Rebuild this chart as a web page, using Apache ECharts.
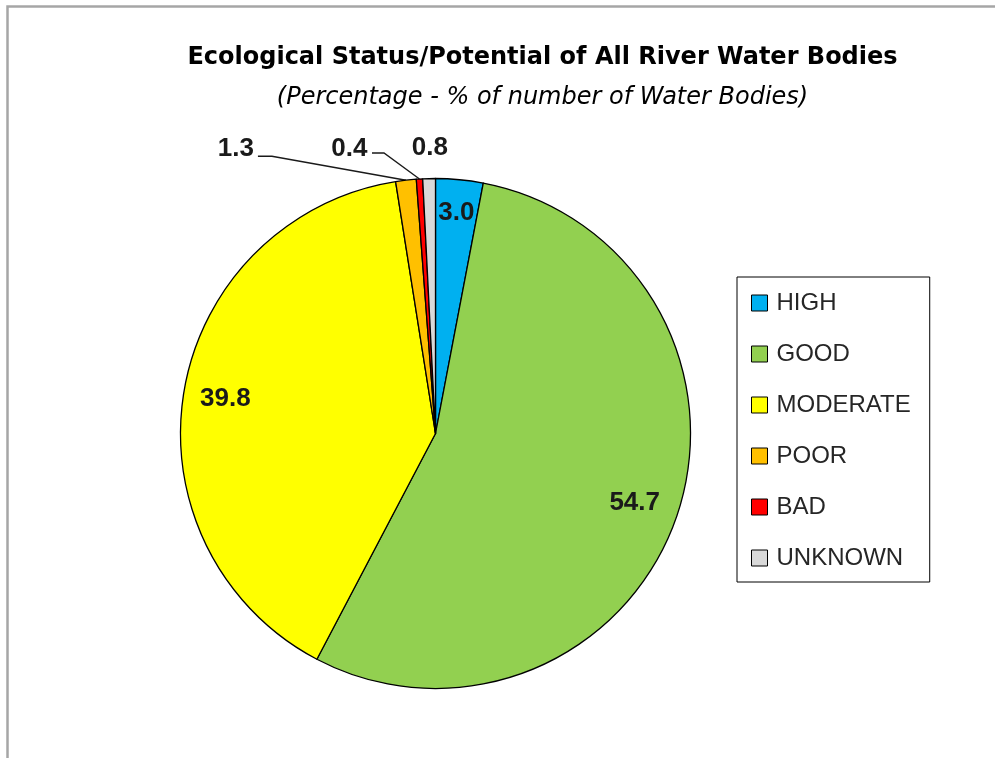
<!DOCTYPE html>
<html>
<head>
<meta charset="utf-8">
<script src="https://cdn.jsdelivr.net/npm/echarts@6/dist/echarts.min.js"></script>
<style>
  html, body { margin: 0; padding: 0; background: #fff; }
  #chart { width: 995px; height: 758px; }
</style>
</head>
<body>
<div id="chart"></div>
<script>
// ---- Data ----
const categories = ['HIGH', 'GOOD', 'MODERATE', 'POOR', 'BAD', 'UNKNOWN'];
const values = [3.0, 54.7, 39.8, 1.3, 0.4, 0.8];
const colors = ['#00B0F0', '#92D050', '#FFFF00', '#FFC000', '#FF0000', '#D9D9D9'];
const titleText = 'Ecological Status/Potential of All River Water Bodies';
const subtitleText = '(Percentage - % of number of Water Bodies)';

// ---- Layout / style settings ----
const PIE_CENTER = [435.5, 433.5];
const PIE_R = 255;
const insideLabelRadius = { 0: 222, 1: 211, 2: 213 };
const outsideLabel = {
  3: { label: [-152, -31], align: 'right', line: [[-134, -24], [-148, -24]] },
  4: { label: [-52, -30], align: 'right', line: [[-35.5, -26], [-47.5, -26]] },
  5: { label: [0.7, -30.6], align: 'center', line: null }
};

const chart = echarts.init(document.getElementById('chart'), null, { renderer: 'canvas' });

const pieData = categories.map((name, i) => ({
  name: name,
  value: values[i],
  itemStyle: { color: colors[i] },
  label: { position: insideLabelRadius[i] != null ? 'inside' : 'outside' }
}));

const option = {
  animation: false,
  backgroundColor: '#ffffff',
  graphic: [{
    type: 'rect',
    silent: true,
    z: -10,
    shape: { x: 7.5, y: 6.5, width: 1200, height: 1000 },
    style: { fill: 'none', stroke: '#A6A6A6', lineWidth: 2.5 }
  }],
  title: [{
    text: titleText,
    left: 542.5,
    top: 46,
    textAlign: 'center',
    padding: 0,
    textStyle: { fontFamily: 'DejaVu Sans', fontWeight: 'bold', fontSize: 24, lineHeight: 24, color: '#000' }
  }, {
    text: subtitleText,
    left: 542.5,
    top: 85.5,
    textAlign: 'center',
    padding: 0,
    textStyle: { fontFamily: 'DejaVu Sans', fontStyle: 'italic', fontWeight: 'normal', fontSize: 24, lineHeight: 24, color: '#000' }
  }],
  legend: {
    orient: 'vertical',
    left: 737,
    top: 277,
    data: categories,
    backgroundColor: '#fff',
    borderColor: '#000',
    borderWidth: 1,
    borderRadius: 0,
    padding: [14, 19, 12, 14],
    itemWidth: 16,
    itemHeight: 16,
    itemGap: 27,
    icon: 'rect',
    selectedMode: false,
    itemStyle: { borderColor: '#000', borderWidth: 1 },
    textStyle: { fontFamily: 'Liberation Sans', fontSize: 24, lineHeight: 23, color: '#262626', padding: [0, 0, 0, 4] }
  },
  series: [{
    type: 'pie',
    center: PIE_CENTER,
    radius: PIE_R,
    startAngle: 90,
    clockwise: true,
    avoidLabelOverlap: false,
    silent: true,
    emphasis: { disabled: true, scale: false },
    itemStyle: { borderColor: '#000', borderWidth: 1.3 },
    label: {
      show: true,
      formatter: p => p.value.toFixed(1),
      fontFamily: 'Liberation Sans',
      fontWeight: 'bold',
      fontSize: 26,
      color: '#1a1a1a'
    },
    labelLine: {
      show: true,
      length: 20,
      length2: 10,
      lineStyle: { color: '#1a1a1a', width: 1.4 }
    },
    labelLayout: function (p) {
      const i = p.dataIndex;
      if (insideLabelRadius[i] != null) {
        const lx = p.labelRect.x + p.labelRect.width / 2;
        const ly = p.labelRect.y + p.labelRect.height / 2;
        const dx = lx - PIE_CENTER[0], dy = ly - PIE_CENTER[1];
        const d = Math.hypot(dx, dy) || 1;
        const k = insideLabelRadius[i] / d;
        return { x: PIE_CENTER[0] + dx * k, y: PIE_CENTER[1] + dy * k, align: 'center', verticalAlign: 'middle' };
      }
      const o = outsideLabel[i];
      if (!o || !p.labelLinePoints) return {};
      const p0 = p.labelLinePoints[0];
      const res = { x: p0[0] + o.label[0], y: p0[1] + o.label[1], align: o.align, verticalAlign: 'middle' };
      if (o.line) {
        res.labelLinePoints = [p0, [p0[0] + o.line[0][0], p0[1] + o.line[0][1]], [p0[0] + o.line[1][0], p0[1] + o.line[1][1]]];
      } else {
        res.labelLinePoints = [p0, p0, p0];
      }
      return res;
    },
    data: pieData
  }]
};

chart.setOption(option);
</script>
</body>
</html>
